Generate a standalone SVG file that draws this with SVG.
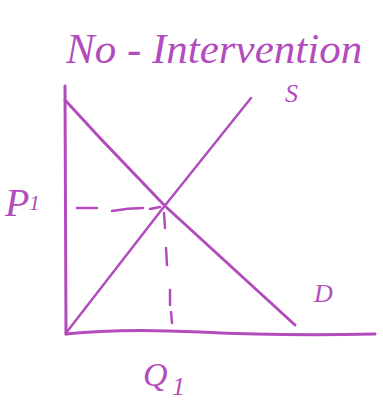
<svg xmlns="http://www.w3.org/2000/svg" width="383" height="403" viewBox="0 0 383 403">
<style>
.ln{stroke:#b24cbd;stroke-width:3;fill:none;stroke-linecap:round;stroke-linejoin:round}
.ds{stroke:#b24cbd;stroke-width:2.5;fill:none;stroke-linecap:round}
.t{fill:#b24cbd;font-family:"Liberation Serif",serif;font-style:italic}
</style>
<rect width="383" height="403" fill="#fff"/>
<g id="title"><text class="t" x="66" y="63" font-size="43">No - Intervention</text></g>
<g id="axes">
<path class="ln" d="M65,86 L66,334"/>
<path class="ln" d="M66,334 Q120,328 200,332 T375,334"/>
</g>
<g id="connectors">
<path class="ln" id="demand" d="M65,100 L100,138 L165,206 L295,325"/>
<path class="ln" id="supply" d="M66,333 L163,208 L251,98" style="stroke-width:2.5"/>
<path class="ds" d="M77,208 L97,208 M112,211 Q128,208 143,208 M150,209 L160,207"/>
<path class="ds" d="M164,213 L165,228 M166,248 L167,265 M170,290 L170,305 M171,312 L172,323"/>
</g>
<g id="S"><text class="t" x="285" y="102" font-size="26">S</text></g>
<g id="D"><text class="t" x="314" y="302" font-size="26">D</text></g>
<g id="P1"><text class="t" x="5" y="216" font-size="40">P</text><text class="t" x="29" y="210" font-size="22">1</text></g>
<g id="Q1"><text class="t" x="143" y="386" font-size="34">Q</text><text class="t" x="172" y="395" font-size="26">1</text></g>
</svg>
